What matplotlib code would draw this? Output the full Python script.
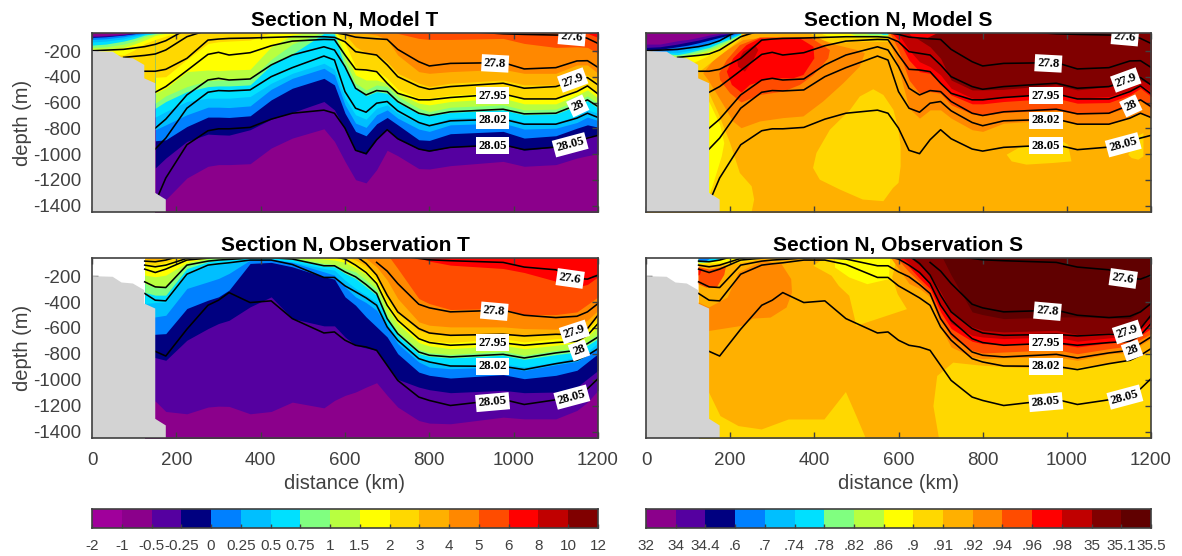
import numpy as np
import matplotlib
matplotlib.use('Agg')
import matplotlib.pyplot as plt

plt.rcParams['font.family'] = ['Liberation Sans', 'DejaVu Sans']
plt.rcParams['axes.unicode_minus'] = False
nan = float('nan')
GRAY = '#404040'
LAND = '#D3D3D3'

PURPLE1, PURPLE2, VIOLET, NAVY = '#A0009B', '#8B008B', '#5500A0', '#000080'
BLUE, LBLUE, CYAN, GREEN, LIME = '#0080FF', '#00BFFF', '#00E0FF', '#80FF80', '#B8FF40'
YELLOW, GOLD, AMBER, ORANGE, RORANGE = '#FFFF00', '#FFD800', '#FFB000', '#FF8800', '#FF4C00'
RED, DRED, MAROON, DMAROON = '#FF0000', '#C00000', '#800000', '#600000'

T_cbar_colors = [PURPLE1, PURPLE2, VIOLET, NAVY, BLUE, LBLUE, CYAN, GREEN, LIME, YELLOW, GOLD, AMBER, ORANGE, RORANGE, RED, DRED, MAROON]
S_cbar_colors = [PURPLE2, VIOLET, NAVY, BLUE, LBLUE, CYAN, GREEN, LIME, YELLOW, GOLD, AMBER, ORANGE, RORANGE, RED, DRED, MAROON, DMAROON]
T_cbar_labels = ['-2', '-1', '-0.5', '-0.25', '0', '0.25', '0.5', '0.75', '1', '1.5', '2', '3', '4', '5', '6', '8', '10', '12']
S_cbar_labels = ['32', '34', '34.4', '.6', '.7', '.74', '.78', '.82', '.86', '.9', '.91', '.92', '.94', '.96', '.98', '35', '35.1', '35.5']

land_x = [0, 0, 49, 70, 97, 124, 124, 150, 150, 175, 175]
land_d = [-1450, -200, -205, -249, -257, -308, -412, -450, -1302, -1353, -1450]

# ---- isopycnal lines -------------------------------------------------------
line_x = [0, 75, 125, 150, 175, 225, 275, 300, 325, 375, 425, 475, 550, 575, 600, 625, 650, 675, 700, 725, 775, 800, 850, 975, 1025, 1100, 1150, 1175, 1200]

model_276 = [-198, -187, -166, -148, -120, -30] + [nan]*16 + [-40, -66, -71, -76, -76, -102, -141]
model_278 = [nan, -249, -234, -223, -192, -89, -37] + [nan]*6 + [-58, -71, -92, -99, -105, -110, -187, -283, -316, -296, -290, -339, -329, -277, -275, -327]
model_279 = [nan, nan, -357, -357, -342, -257, -115, -107, -102, -99, -94, -89, -89, -94, -128, -205, -218, -231, -308, -399, -476, -497, -476, -450, -489, -476, -425, -406, -463]
model_2795 = [nan, nan, nan, -520, -476, -352, -226, -210, -231, -213, -159, -123, -110, -112, -231, -342, -347, -360, -450, -528, -579, -579, -561, -533, -572, -572, -515, -471, -533]
model_28 = [nan, nan, nan, -799, -729, -541, -425, -412, -425, -417, -308, -231, -167, -192, -321, -489, -541, -507, -515, -592, -683, -701, -672, -652, -688, -683, -618, -579, -631]
model_2802 = [nan, nan, nan, -961, -876, -644, -520, -507, -510, -502, -399, -329, -239, -270, -515, -644, -675, -605, -592, -664, -755, -780, -742, -729, -768, -768, -721, -683, -716]
model_2805 = [nan, nan, nan, -1376, -1186, -928, -819, -804, -804, -793, -729, -683, -659, -683, -799, -971, -997, -889, -811, -881, -961, -977, -948, -928, -966, -946, -902, -876, -855]

obs_276 = [nan, nan] + [nan]*17 + [-40, -63, -74, -81, -94, -130, -151, -218, -223, -192]
obs_278 = [nan, nan, -84, -89, -76, -30] + [nan]*11 + [-94, -161, -257, -417, -445, -476, -463, -502, -520, -510, -476, -412]
obs_279 = [nan, nan, -115, -128, -115, -63, -40] + [nan]*8 + [-43, -102, -192, -347, -476, -605, -639, -657, -649, -662, -649, -652, -605, -502]
obs_2795 = [nan, nan, -146, -172, -146, -76, -61, -50, -50, -50, -50, -50, -50, -50, -68, -115, -172, -257, -425, -541, -683, -713, -734, -716, -734, -713, -703, -657, -566]
obs_28 = [nan, nan, -244, -283, -288, -115, -84, -76, -71, -61, -58, -68, -120, -120, -167, -205, -265, -334, -528, -644, -786, -811, -824, -804, -832, -793, -773, -721, -670]
obs_2802 = [nan, nan, -334, -386, -391, -185, -115, -105, -97, -76, -76, -110, -210, -210, -275, -321, -368, -425, -592, -695, -837, -863, -894, -897, -922, -876, -850, -811, -760]
obs_2805 = [nan, nan, nan, -781, -817, -610, -425, -386, -327, -404, -391, -528, -639, -631, -695, -734, -747, -773, -889, -1005, -1134, -1160, -1199, -1152, -1191, -1155, -1121, -1070, -992]

label_text = ['27.6', '27.8', '27.9', '27.95', '28', '28.02', '28.05', '28.05']
model_label_x = [1138, 956, 1140, 950, 1152, 950, 950, 1134]
model_label_d = [-89, -296, -425, -546, -626, -739, -935, -928]
model_label_rot = [-5, -3, 20, 0, 25, 0, 0, 15]
obs_label_x = [1134, 954, 1144, 950, 1155, 950, 950, 1138]
obs_label_d = [-218, -471, -631, -713, -773, -897, -1173, -1134]
obs_label_rot = [-8, -5, 18, 0, 20, 0, 5, 15]

# ---- temperature: model, lower depth of each colour band --------------------
mt_x = [150, 175, 225, 275, 300, 325, 375, 425, 475, 550, 575, 600, 625, 650, 675, 700, 725, 775, 800, 850, 975, 1025, 1100, 1150, 1175, 1200]
mt_violet = [-1431, -1353, -1186, -1095, -1082, -1082, -1075, -953, -876, -804, -902, -1057, -1199, -1224, -1121, -971, -1013, -1113, -1116, -1090, -1057, -1095, -1082, -1031, -1013, -997]
mt_navy = [-1108, -1031, -902, -845, -850, -853, -811, -729, -677, -592, -657, -811, -971, -1002, -889, -806, -884, -961, -979, -946, -928, -971, -946, -889, -863, -850]
mt_blue = [-897, -889, -786, -713, -713, -716, -703, -579, -489, -412, -463, -683, -824, -858, -765, -716, -773, -889, -894, -842, -824, -876, -858, -799, -773, -791]
mt_lblue = [-811, -773, -695, -636, -636, -639, -626, -497, -412, -334, -386, -618, -760, -793, -695, -657, -721, -806, -824, -773, -760, -806, -799, -755, -713, -739]
mt_cyan = [-713, -670, -592, -566, -566, -566, -553, -450, -373, -295, -342, -566, -695, -729, -644, -618, -683, -760, -773, -721, -708, -755, -755, -703, -657, -683]
mt_green = [-644, -592, -515, -476, -471, -471, -463, -308, -223, -63, -68, -334, -489, -548, -515, -528, -600, -688, -703, -677, -657, -695, -688, -626, -584, -644]
mt_lime = [-605, -548, -476, -430, -425, -425, -419, -265, -146, -50, -58, -270, -450, -502, -463, -476, -553, -644, -670, -636, -618, -657, -651, -584, -548, -605]
mt_yellow = [-528, -489, -360, -347, -352, -347, -342, -167, -76, -38, -50, -218, -386, -425, -425, -450, -528, -605, -618, -592, -566, -610, -610, -541, -502, -566]
mt_gold = [-404, -399, -265, -141, -128, -123, -115, -58, -38, -30, -38, -141, -321, -347, -347, -412, -497, -566, -566, -541, -522, -566, -566, -502, -463, -522]
mt_amber = [-30, -50, -66, -50, -30, -30, -30, -30, -30, -30, -30, -68, -167, -213, -223, -283, -373, -450, -476, -450, -425, -463, -463, -412, -386, -437]
mt_orange = [-30]*13 + [-63, -76, -110, -231, -360, -373, -360, -342, -373, -373, -308, -308, -373]
mt_rorange = [-30]*16 + [-63, -102, -110, -110, -102, -141, -172, -167, -172, -218]
mt_red = [-30]*23 + [-50, -63, -94]

wedge_x = [0, 33, 75, 100, 125, 150, 175, 200, 225]
mtw_yellow = [-218, -223, -231, -192, -141, -110, -84, -63, -50]
mtw_lime = [-187, -185, -172, -146, -115, -79, -63, -50, -38]
mtw_green = [-172, -167, -146, -123, -89, -68, -50, -38, -38]
mtw_cyan = [-154, -146, -123, -102, -76, -63, -38, -38, -38]
mtw_lblue = [-130, -123, -105, -87, -68, -50, -38, -38, -38]
mtw_blue = [-110, -105, -89, -74, -63, -38, -38, -38, -38]
mtw_navy = [-94, -89, -76, -66, -50, -38, -38, -38, -38]
mtw_violet = [-89, -84, -74, -63, -50, -38, -38, -38, -38]
mtw_purple = [-81, -79, -69, -50, -38, -38, -38, -38, -38]

# ---- temperature: observation ----------------------------------------------
ot_x = [125, 150, 175, 225, 275, 300, 325, 375, 425, 475, 550, 575, 600, 625, 650, 675, 700, 725, 775, 800, 850, 975, 1025, 1100, 1150, 1175, 1200]
ot_violet = [-1165, -1165, -1245, -1263, -1211, -1204, -1206, -1263, -1245, -1173, -1217, -1160, -1121, -1095, -1057, -1023, -1121, -1211, -1315, -1335, -1340, -1289, -1302, -1302, -1237, -1173, -1082]
ot_navy = [-829, -829, -850, -695, -605, -566, -541, -437, -360, -528, -584, -584, -670, -734, -755, -773, -889, -997, -1057, -1077, -1100, -1082, -1100, -1095, -1057, -992, -928]
ot_blue = [-649, -649, -644, -450, -386, -360, -308, -102, -94, -128, -205, -223, -360, -425, -515, -592, -670, -799, -941, -966, -987, -961, -992, -966, -927, -863, -799]
ot_lblue = [-515, -515, -502, -295, -244, -218, -179, -76, -68, -94, -167, -192, -283, -360, -404, -463, -592, -721, -863, -902, -915, -902, -928, -884, -858, -811, -747]
ot_cyan = [-412, -404, -399, -187, -120, -110, -102, -68, -68, -89, -141, -154, -231, -295, -347, -399, -566, -683, -837, -868, -889, -876, -902, -863, -824, -786, -713]
ot_green = [-326, -347, -347, -141, -89, -76, -71, -61, -58, -71, -123, -128, -179, -218, -283, -347, -533, -657, -799, -819, -832, -811, -842, -806, -786, -734, -683]
ot_lime = [-257, -288, -288, -110, -68, -63, -58, -50, -50, -58, -102, -110, -141, -167, -231, -301, -502, -626, -765, -791, -804, -780, -811, -773, -755, -703, -644]
ot_yellow = [-192, -205, -192, -94, -58, -50, -50, -45, -45, -50, -68, -76, -94, -136, -187, -270, -450, -566, -713, -739, -760, -734, -760, -734, -713, -664, -592]
ot_gold = [-102, -115, -94, -63, -45, -45, -45, -45, -45, -45, -50, -55, -68, -102, -154, -231, -399, -528, -670, -700, -713, -683, -708, -683, -675, -618, -541]
ot_amber = [-68, -76, -63, -45, -45, -45, -45, -45, -45, -45, -45, -45, -50, -76, -120, -192, -347, -476, -618, -644, -657, -644, -657, -649, -644, -600, -502]
ot_orange = [-30]*13 + [-30, -63, -128, -231, -373, -553, -579, -592, -592, -605, -610, -579, -541, -463]
ot_rorange = [-30]*17 + [-141, -373, -412, -458, -450, -497, -497, -476, -419, -360]
ot_red = [-30]*18 + [-58, -84, -115, -141, -172, -239, -283, -264, -205]

# ---- salinity: model --------------------------------------------------------
strata_x = [575, 600, 625, 650, 675, 700, 725, 775, 800, 850, 975, 1025, 1100, 1150, 1175, 1200]
ms_orange = [-89, -334, -644, -721, -657, -657, -721, -811, -824, -760, -734, -768, -768, -716, -683, -721]
ms_rorange = [-30, -192, -425, -528, -515, -528, -618, -688, -701, -677, -657, -690, -683, -631, -584, -644]
ms_red = [-30, -115, -270, -360, -373, -450, -541, -610, -610, -592, -566, -605, -600, -541, -489, -553]
ms_dred = [-30, -68, -192, -283, -321, -386, -489, -566, -579, -553, -528, -566, -553, -502, -463, -515]
ms_maroon = [-30, -30, -63, -115, -167, -257, -425, -502, -502, -497, -463, -502, -476, -437, -425, -463]

msw_gold = [-257, -257, -300, -340, -360, -295, -231, -167, -102]
msw_yellow = [-244, -244, -283, -308, -270, -231, -192, -141, -89]
msw_lime = [-228, -228, -249, -244, -223, -205, -172, -128, -84]
msw_green = [-223, -223, -239, -228, -210, -187, -154, -115, -76]
msw_cyan = [-218, -218, -228, -213, -192, -172, -136, -105, -68]
msw_lblue = [-213, -213, -213, -197, -179, -154, -120, -94, -63]
msw_blue = [-208, -205, -192, -179, -159, -133, -107, -84, -58]
msw_navy = [-192, -187, -167, -154, -136, -115, -94, -74, -50]
msw_violet = [-172, -167, -146, -130, -115, -94, -76, -63, -50]
msw_purple = [-146, -146, -120, -110, -94, -76, -63, -50, -38]

gold_left_x = [150, 172, 200, 223, 251, 257, 251, 174, 156]
gold_left_d = [-528, -683, -915, -1147, -1250, -1353, -1450, -1450, -1315]
yellow_left_x = [148, 150, 176, 186, 180, 152, 148]
yellow_left_d = [-592, -592, -773, -915, -1018, -1315, -1315]
gold_core_x = [540, 564, 588, 600, 605, 605, 600, 587, 564, 515, 461, 413, 397, 405, 437, 485, 508]
gold_core_d = [-497, -541, -657, -811, -941, -1095, -1224, -1263, -1366, -1353, -1276, -1199, -1108, -992, -811, -657, -553]
gold_east_x = [857, 885, 920, 984, 1003, 1011, 968, 904, 869]
gold_east_d = [-1005, -953, -928, -889, -928, -1057, -1069, -1082, -1057]
gold_far_x = [1146, 1166, 1182, 1182, 1170, 1154]
gold_far_d = [-1005, -863, -837, -1018, -1044, -1031]
core_orange_x = [136, 164, 200, 231, 287, 405, 437, 501, 520, 508, 469, 421, 374, 326, 271, 227, 207, 184, 160, 148]
core_orange_d = [-373, -257, -179, -115, -94, -89, -141, -192, -218, -321, -450, -592, -708, -721, -747, -799, -747, -618, -489, -425]
core_rorange_x = [174, 192, 223, 271, 390, 437, 433, 398, 366, 326, 271, 227, 200, 176]
core_rorange_d = [-373, -270, -154, -94, -94, -192, -257, -386, -463, -515, -541, -600, -528, -425]
core_red_x = [192, 207, 239, 271, 366, 398, 400, 374, 350, 295, 247, 227, 204]
core_red_d = [-360, -257, -154, -102, -102, -167, -257, -386, -412, -412, -463, -523, -463]
core_dred_x = [217, 231, 259, 267, 255, 235, 219]
core_dred_d = [-283, -205, -154, -192, -270, -360, -321]
strip_gold_x = [374, 421, 445, 501, 576, 604, 619, 619]
strip_gold_d = [-40, -115, -141, -128, -128, -141, -89, -40]
strip_yellow_x = [398, 437, 508, 576, 611, 611]
strip_yellow_d = [-40, -94, -102, -99, -68, -40]
strip_lime_x = [461, 501, 572, 600]
strip_lime_d = [-40, -84, -89, -40]
strip_green_x = [501, 532, 592, 596]
strip_green_d = [-40, -76, -76, -40]
strip_cyan_x = [540, 564, 592, 593]
strip_cyan_d = [-40, -74, -71, -40]
patch_red_x = [619, 635, 667, 706]
patch_red_d = [-40, -102, -102, -40]

# ---- salinity: observation --------------------------------------------------
os_orange = [-30, -141, -257, -295, -360, -592, -747, -824, -837, -830, -824, -850, -799, -791, -734, -683]
os_rorange = [-30, -76, -167, -244, -326, -528, -670, -773, -794, -786, -768, -799, -760, -739, -688, -644]
os_red = [-30, -50, -128, -218, -296, -476, -605, -703, -721, -729, -721, -747, -716, -703, -657, -605]
os_dred = [-30, -30, -102, -179, -257, -425, -566, -657, -670, -682, -670, -703, -677, -657, -610, -553]
os_maroon = [-30, -30, -50, -115, -192, -321, -476, -592, -618, -631, -618, -651, -636, -631, -584, -515]
os_dmaroon = [-30, -30, -30, -30, -30, -30, -192, -476, -497, -528, -515, -515, -523, -528, -476, -399]

obs_amber_x = [125, 1200, 1200, 1147, 1088, 1002, 875, 790, 730, 692, 683, 696, 522, 500, 475, 424, 339, 275, 220, 177, 150, 125]
obs_amber_d = [-40, -40, -791, -855, -881, -920, -907, -889, -868, -971, -1204, -1450, -1450, -1281, -1095, -1307, -1307, -1384, -1358, -1281, -1100, -1100]
obs_orange_x = [125, 150, 194, 220, 279, 322, 345, 347, 334, 296, 254, 228, 151, 125]
obs_orange_d = [-404, -442, -365, -172, -81, -107, -223, -326, -442, -520, -528, -584, -623, -623]
obs_rorange_x = [125, 151, 190, 186, 168, 143, 125]
obs_rorange_d = [-130, -150, -125, -190, -288, -288, -262]
obs_red_x = [125, 132, 128, 125]
obs_red_d = [-135, -150, -190, -195]
obs_mid_gold_x = [432, 398, 441, 458, 483, 500, 620, 598, 585, 598]
obs_mid_gold_d = [-40, -120, -197, -275, -352, -584, -455, -339, -210, -40]
obs_mid_yellow_x = [449, 449, 483, 526, 577, 581]
obs_mid_yellow_d = [-40, -133, -210, -262, -223, -40]
nw_gold_x = [125, 300, 250, 190, 125]
nw_gold_d = [-40, -40, -85, -115, -120]
nw_yellow_x = [125, 270, 225, 175, 125]
nw_yellow_d = [-40, -40, -75, -100, -105]
nw_cyan_x = [125, 205, 170, 143, 125]
nw_cyan_d = [-40, -40, -80, -95, -95]
nw_blue_x = [125, 165, 143, 125]
nw_blue_d = [-40, -40, -85, -85]

# ---- drawing ----------------------------------------------------------------
W, H = 1182, 556
fig = plt.figure(figsize=(W / 100, H / 100), dpi=100)


def axes_px(x0, x1, y0, y1):
    return fig.add_axes([x0 / W, 1 - y1 / H, (x1 - x0) / W, (y1 - y0) / H])


def strata(ax, x, lowers, colors):
    for low, col in zip(lowers, colors):
        ax.fill_between(x, low, -40, color=col, lw=0, zorder=1)


def poly(ax, x, d, col):
    ax.fill(x, d, color=col, lw=0, zorder=1)


def finish(ax, title, lines, lx, ld, lr, xlab, ylab):
    for vals in lines:
        ax.plot(line_x, vals, color='k', lw=1.15, zorder=2.5)
    ax.fill(land_x, land_d, color=LAND, lw=0, zorder=3)
    for t, px, pd, pr in zip(label_text, lx, ld, lr):
        ax.text(px, pd, t, family='Liberation Serif', weight='bold', fontsize=9.2, rotation=pr,
                ha='center', va='center', zorder=5, clip_on=True,
                bbox=dict(facecolor='white', edgecolor='none', pad=1.8))
    ax.set_xlim(0, 1200)
    ax.set_ylim(-1450, -60)
    ax.set_xticks(range(0, 1201, 200))
    ax.set_yticks(range(-1400, -199, 200))
    ax.tick_params(direction='in', top=True, right=True, length=4, width=1, color=GRAY,
                   labelcolor=GRAY, labelsize=13.5, labelbottom=xlab, labelleft=ylab)
    ax.tick_params(axis='x', pad=10)
    ax.tick_params(axis='y', pad=8)
    for s in ax.spines.values():
        s.set_color(GRAY)
        s.set_linewidth(1.2)
        s.set_zorder(6)
    ax.set_title(title, fontsize=15, weight='bold', pad=5)
    if xlab:
        ax.set_xlabel('distance (km)', fontsize=14.5, color=GRAY, labelpad=4)
    if ylab:
        ax.set_ylabel('depth (m)', fontsize=14.5, color=GRAY)
        ax.yaxis.set_label_coords(-0.118, 0.5)


LX0, LX1, RX0, RX1 = 92, 598, 646, 1151
model_lines = [model_276, model_278, model_279, model_2795, model_28, model_2802, model_2805]
obs_lines = [obs_276, obs_278, obs_279, obs_2795, obs_28, obs_2802, obs_2805]
T_colors = [VIOLET, NAVY, BLUE, LBLUE, CYAN, GREEN, LIME, YELLOW, GOLD, AMBER, ORANGE, RORANGE, RED]

# Model T
ax = axes_px(LX0, LX1, 33, 212)
ax.fill_between(mt_x, -1500, -40, color=PURPLE2, lw=0, zorder=1)
strata(ax, mt_x, [mt_violet, mt_navy, mt_blue, mt_lblue, mt_cyan, mt_green, mt_lime, mt_yellow, mt_gold, mt_amber, mt_orange, mt_rorange, mt_red], T_colors)
ax.fill_between([0, 150], -460, -40, color=GOLD, lw=0, zorder=1)
strata(ax, wedge_x, [mtw_yellow, mtw_lime, mtw_green, mtw_cyan, mtw_lblue, mtw_blue, mtw_navy, mtw_violet, mtw_purple],
       [YELLOW, LIME, GREEN, CYAN, LBLUE, BLUE, NAVY, VIOLET, PURPLE2])
finish(ax, 'Section N, Model T', model_lines, model_label_x, model_label_d, model_label_rot, False, True)

# Model S
ax = axes_px(RX0, RX1, 33, 212)
ax.fill_between([0, 1200], -1500, -40, color=AMBER, lw=0, zorder=1)
for xs, ds, c in [(gold_left_x, gold_left_d, GOLD), (yellow_left_x, yellow_left_d, YELLOW), (gold_core_x, gold_core_d, GOLD),
                  (gold_east_x, gold_east_d, GOLD), (gold_far_x, gold_far_d, GOLD), (core_orange_x, core_orange_d, ORANGE),
                  (core_rorange_x, core_rorange_d, RORANGE), (core_red_x, core_red_d, RED), (core_dred_x, core_dred_d, DRED),
                  (strip_gold_x, strip_gold_d, GOLD), (strip_yellow_x, strip_yellow_d, YELLOW), (strip_lime_x, strip_lime_d, LIME),
                  (strip_green_x, strip_green_d, GREEN), (strip_cyan_x, strip_cyan_d, CYAN)]:
    poly(ax, xs, ds, c)
strata(ax, strata_x, [ms_orange, ms_rorange, ms_red, ms_dred, ms_maroon], [ORANGE, RORANGE, RED, DRED, MAROON])
poly(ax, patch_red_x, patch_red_d, RED)
strata(ax, wedge_x, [msw_gold, msw_yellow, msw_lime, msw_green, msw_cyan, msw_lblue, msw_blue, msw_navy, msw_violet, msw_purple],
       [GOLD, YELLOW, LIME, GREEN, CYAN, LBLUE, BLUE, NAVY, VIOLET, PURPLE2])
finish(ax, 'Section N, Model S', model_lines, model_label_x, model_label_d, model_label_rot, False, False)

# Observation T
ax = axes_px(LX0, LX1, 258, 438)
ax.fill_between(ot_x, -1500, -40, color=PURPLE2, lw=0, zorder=1)
strata(ax, ot_x, [ot_violet, ot_navy, ot_blue, ot_lblue, ot_cyan, ot_green, ot_lime, ot_yellow, ot_gold, ot_amber, ot_orange, ot_rorange, ot_red], T_colors)
finish(ax, 'Section N, Observation T', obs_lines, obs_label_x, obs_label_d, obs_label_rot, True, True)

# Observation S
ax = axes_px(RX0, RX1, 258, 438)
ax.fill_between([125, 1200], -1500, -40, color=GOLD, lw=0, zorder=1)
for xs, ds, c in [(obs_amber_x, obs_amber_d, AMBER), (obs_orange_x, obs_orange_d, ORANGE), (obs_rorange_x, obs_rorange_d, RORANGE),
                  (obs_red_x, obs_red_d, RED), (obs_mid_gold_x, obs_mid_gold_d, GOLD), (obs_mid_yellow_x, obs_mid_yellow_d, YELLOW),
                  (nw_gold_x, nw_gold_d, GOLD), (nw_yellow_x, nw_yellow_d, YELLOW), (nw_cyan_x, nw_cyan_d, CYAN), (nw_blue_x, nw_blue_d, BLUE)]:
    poly(ax, xs, ds, c)
strata(ax, strata_x, [os_orange, os_rorange, os_red, os_dred, os_maroon, os_dmaroon], [ORANGE, RORANGE, RED, DRED, MAROON, DMAROON])
finish(ax, 'Section N, Observation S', obs_lines, obs_label_x, obs_label_d, obs_label_rot, True, False)


def colorbar(x0, x1, colors, labels):
    ax = axes_px(x0, x1, 509, 528)
    for i, c in enumerate(colors):
        ax.axvspan(i, i + 1, color=c, lw=0)
    ax.set_xlim(0, len(colors))
    ax.set_ylim(0, 1)
    ax.set_yticks([])
    ax.set_xticks(range(len(labels)))
    ax.set_xticklabels(labels)
    ax.tick_params(direction='in', length=3, width=1, color=GRAY, labelcolor=GRAY, labelsize=11, pad=8)
    for s in ax.spines.values():
        s.set_color(GRAY)
        s.set_linewidth(1.2)


colorbar(LX0, LX1, T_cbar_colors, T_cbar_labels)
colorbar(RX0, RX1, S_cbar_colors, S_cbar_labels)

fig.savefig('out.png', dpi=100)
